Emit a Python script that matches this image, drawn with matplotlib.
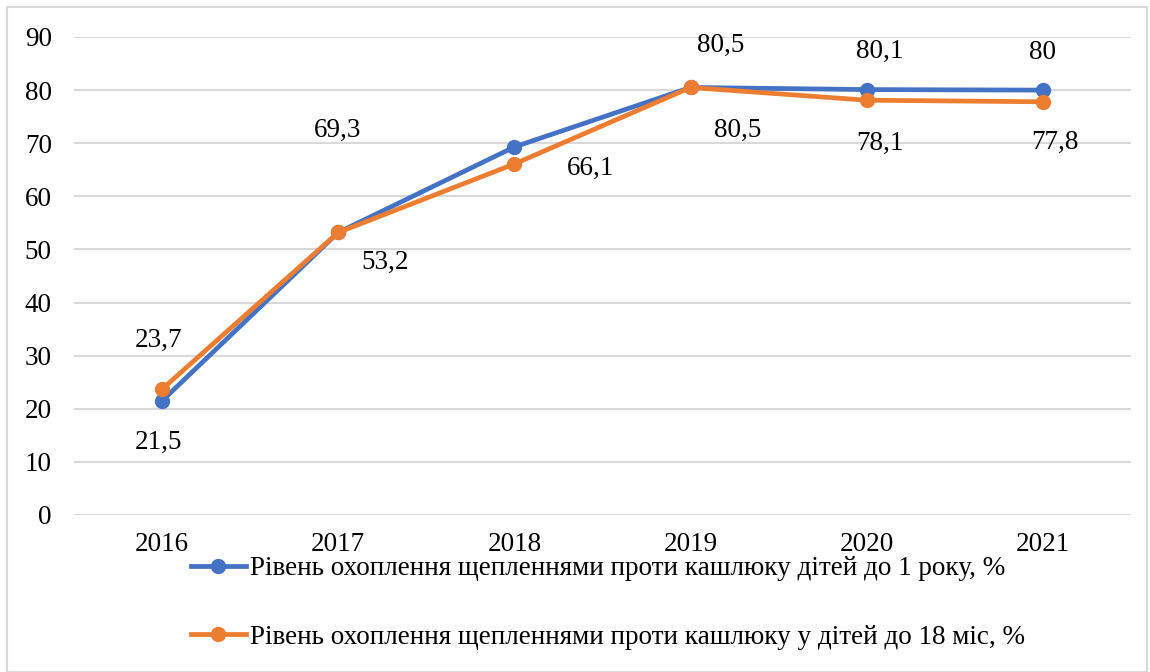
import matplotlib.pyplot as plt
from matplotlib.patches import Rectangle

years = ['2016', '2017', '2018', '2019', '2020', '2021']
cov_1y = [21.5, 53.2, 69.3, 80.5, 80.1, 80]
cov_18m = [23.7, 53.2, 66.1, 80.5, 78.1, 77.8]
label_1y = 'Рівень охоплення щепленнями проти кашлюку дітей до 1 року, %'
label_18m = 'Рівень охоплення щепленнями проти кашлюку у дітей до 18 міс, %'

# label offsets in pixels (dx, dy) as Excel placed them
off_1y = [(-4, -42), None, (-177, 17), (30, 42), (13, 38), (0, 38)]
off_18m = [(-4, 49), (47, -30), (76, -4), (47, -43), (13, -43), (12, -41)]

plt.rcParams['font.family'] = ['Liberation Serif', 'DejaVu Serif']
fs = 19.5

fig = plt.figure(figsize=(11.5, 6.72), dpi=100)
fig.patches.append(Rectangle((7/1150, 0.0), 1140/1150, 1 - 7/672, transform=fig.transFigure,
                             fill=False, edgecolor='#d9d9d9', linewidth=1.5))
ax = fig.add_axes([74/1150, 1 - 515/672, 1057/1150, 478/672])

x = list(range(len(years)))
blue = '#4472C4'
orange = '#ED7D31'
ax.plot(x, cov_1y, color=blue, lw=3.4, marker='o', ms=10, label=label_1y, zorder=3)
ax.plot(x, cov_18m, color=orange, lw=3.4, marker='o', ms=10, label=label_18m, zorder=4)

def fmt(v):
    s = ('%g' % v).replace('.', ',')
    return s

for xs, vals, offs in [(x, cov_1y, off_1y), (x, cov_18m, off_18m)]:
    for xi, v, o in zip(xs, vals, offs):
        if o is None:
            continue
        ax.annotate(fmt(v), (xi, v), xytext=(o[0] * 0.72, o[1] * 0.72), textcoords='offset points',
                    ha='center', va='center', fontsize=fs)

ax.set_xlim(-0.5, 5.5)
ax.set_ylim(0, 90)
ax.set_yticks(range(0, 91, 10))
ax.set_xticks(x)
ax.set_xticklabels(years)
ax.tick_params(axis='both', length=0, labelsize=fs)
ax.tick_params(axis='y', pad=16)
ax.tick_params(axis='x', pad=12)
ax.grid(axis='y', color='#d9d9d9', lw=1.5)
ax.set_axisbelow(True)
for s in ax.spines.values():
    s.set_visible(False)

leg = fig.legend(loc='upper left', bbox_to_anchor=(167/1150, 1 - 532/672), frameon=False,
                 fontsize=fs, handlelength=2.0, handletextpad=0.15, labelspacing=1.6)

fig.savefig('out.png', dpi=100)
